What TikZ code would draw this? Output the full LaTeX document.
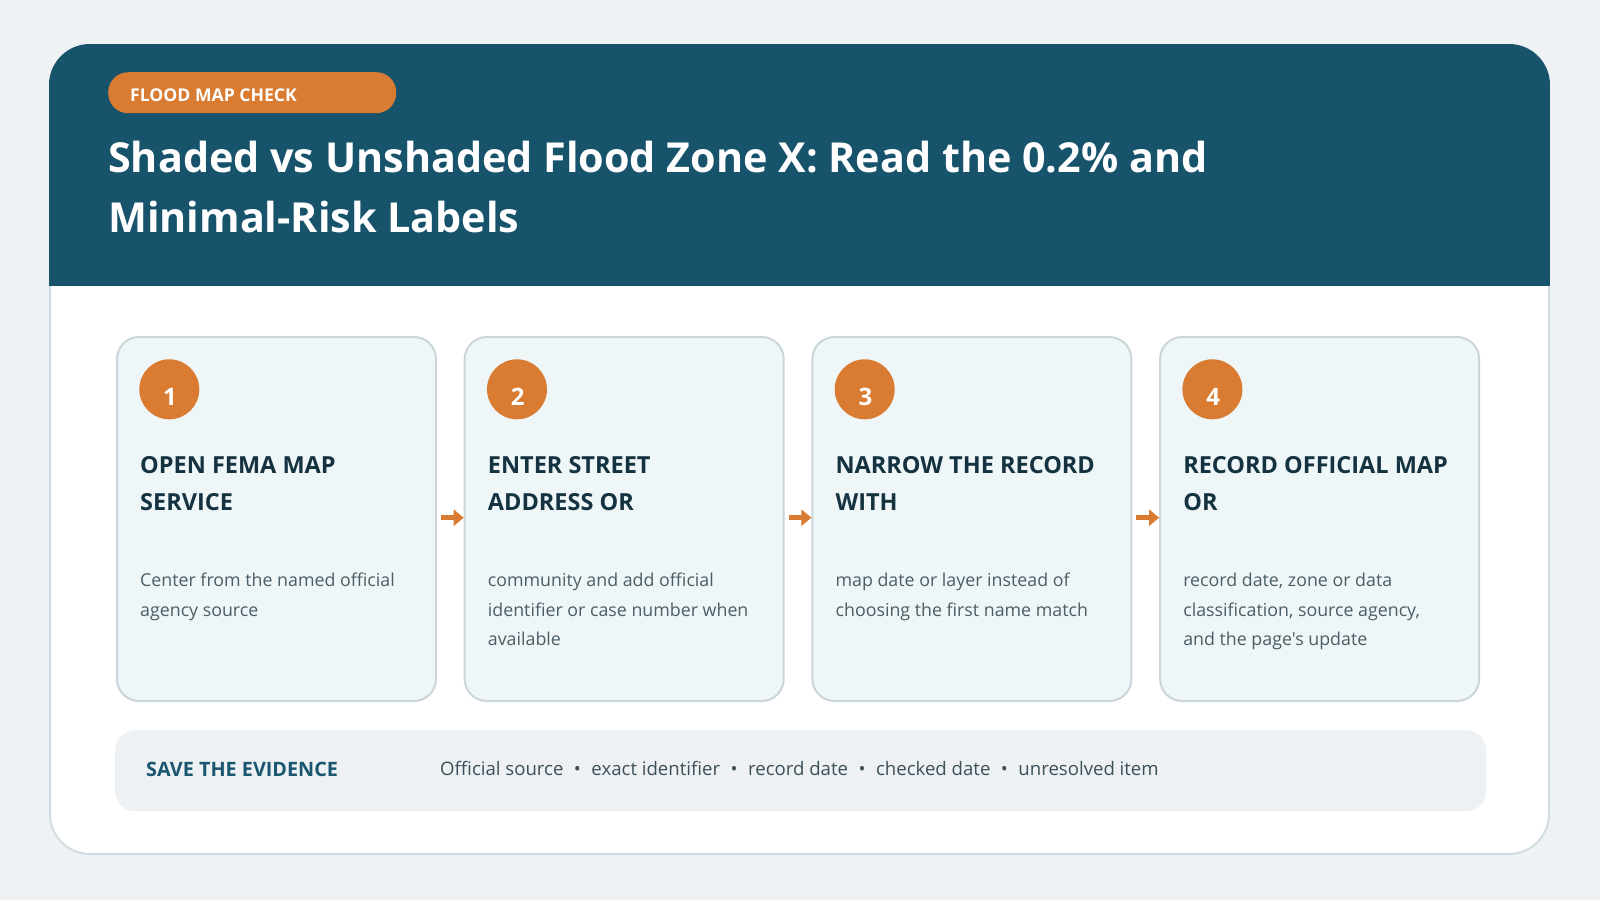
\documentclass[tikz,border=0pt]{standalone}
\usepackage{fontspec}
\setmainfont{Open Sans}[Ligatures=TeXOff]
\usetikzlibrary{arrows.meta}
\definecolor{bgc}{HTML}{EEF2F4}
\definecolor{hdr}{HTML}{17536B}
\definecolor{org}{HTML}{D97C32}
\definecolor{cardfill}{HTML}{EEF6F8}
\definecolor{cardline}{HTML}{CAD6DA}
\definecolor{headc}{HTML}{143240}
\definecolor{bodyc}{HTML}{4B5D66}
\definecolor{barc}{HTML}{EDF1F4}
\definecolor{frame}{HTML}{D3DDE1}
\definecolor{itemc}{HTML}{3D4F59}
\definecolor{savec}{HTML}{1A5670}
\begin{document}
\begin{tikzpicture}[x=1pt,y=-1pt,
  cardbox/.style={draw=cardline, line width=2pt, fill=cardfill, rounded corners=22pt,
    minimum width=319pt, minimum height=364pt, anchor=north west, inner sep=0pt},
  numdot/.style={circle, fill=org, minimum size=60pt, inner sep=0pt},
  numtxt/.style={text=white, font=\fontsize{24}{28}\selectfont\bfseries, anchor=base, inner sep=0pt},
  headtxt/.style={text=headc, font=\fontsize{23.5}{36.7}\selectfont\bfseries, align=left, anchor=base west, inner sep=0pt},
  bodytxt/.style={text=bodyc, font=\fontsize{17.8}{29.5}\selectfont, align=left, anchor=base west, inner sep=0pt},
  flow/.style={draw=org, line width=5pt, -{Triangle[length=10pt,width=16pt]}},
  pill/.style={fill=org, rounded corners=20pt, minimum width=288pt, minimum height=41pt, anchor=north west, inner sep=0pt},
  bar/.style={fill=barc, rounded corners=20pt, minimum width=1371pt, minimum height=81pt, anchor=north west, inner sep=0pt}
]
\useasboundingbox (0,0) rectangle (1600,900);
\fill[bgc] (0,0) rectangle (1600,900);
% outer card
\draw[frame, fill=white, line width=2pt, rounded corners=40pt] (50,45) rectangle (1549,854);
\begin{scope}
  \clip[rounded corners=41pt] (49,44) rectangle (1550,855);
  \fill[hdr] (49,44) rectangle (1550,286);
\end{scope}
% tag
\node[pill] (tag) at (108,72) {};
\node[text=white, font=\fontsize{17.6}{20}\selectfont\bfseries, anchor=base west, inner sep=0pt] (tagtxt) at (130,101.7) {FLOOD MAP CHECK};
% title (base anchor = last line)
\node[text=white, font=\fontsize{41.3}{59.6}\selectfont\bfseries, align=left, anchor=base west, inner sep=0pt] (title) at (108,232.3)
  {Shaded vs Unshaded Flood Zone X: Read the 0.2\% and\\Minimal-Risk Labels};
% cards
\foreach \i/\h/\b/\n in {1/{OPEN FEMA MAP\\SERVICE}/{Center from the named official\\agency source}/1,
  2/{ENTER STREET\\ADDRESS OR}/{community and add official\\identifier or case number when\\available}/2,
  3/{NARROW THE RECORD\\WITH}/{map date or layer instead of\\choosing the first name match}/1,
  4/{RECORD OFFICIAL MAP\\OR}/{record date, zone or data\\classification, source agency,\\and the page's update}/2}{
  \pgfmathsetmacro\x{116+347.7*(\i-1)}
  \pgfmathsetmacro\yb{586.7+29.5*\n}
  \node[cardbox] (c\i) at (\x,336) {};
  \node[numdot] (d\i) at (\x+53.3,389.3) {};
  \node[numtxt] (n\i) at (\x+54,405) {\i};
  \node[headtxt] (h\i) at (\x+24,510) {\h};
  \node[bodytxt] (b\i) at (\x+24,\yb) {\b};
}
\foreach \i/\j in {1/2,2/3,3/4}{
  \draw[flow] ([xshift=4pt,yshift=1.3pt]c\i.east) -- ([yshift=1.3pt]c\j.west);
}
% evidence bar
\node[bar] (save) at (115,730) {};
\node[text=savec, font=\fontsize{19.8}{22}\selectfont\bfseries, anchor=base west, inner sep=0pt] (savetxt) at (146,776) {SAVE THE EVIDENCE};
\node[text=itemc, font=\fontsize{18.6}{22}\selectfont, anchor=base west, inner sep=0pt] (items) at (440,775.5)
  {Official source\hspace{10.5pt}•\hspace{10.5pt}exact identifier\hspace{10.5pt}•\hspace{10.5pt}record date\hspace{10.5pt}•\hspace{10.5pt}checked date\hspace{10.5pt}•\hspace{10.5pt}unresolved item};
\end{tikzpicture}
\end{document}
